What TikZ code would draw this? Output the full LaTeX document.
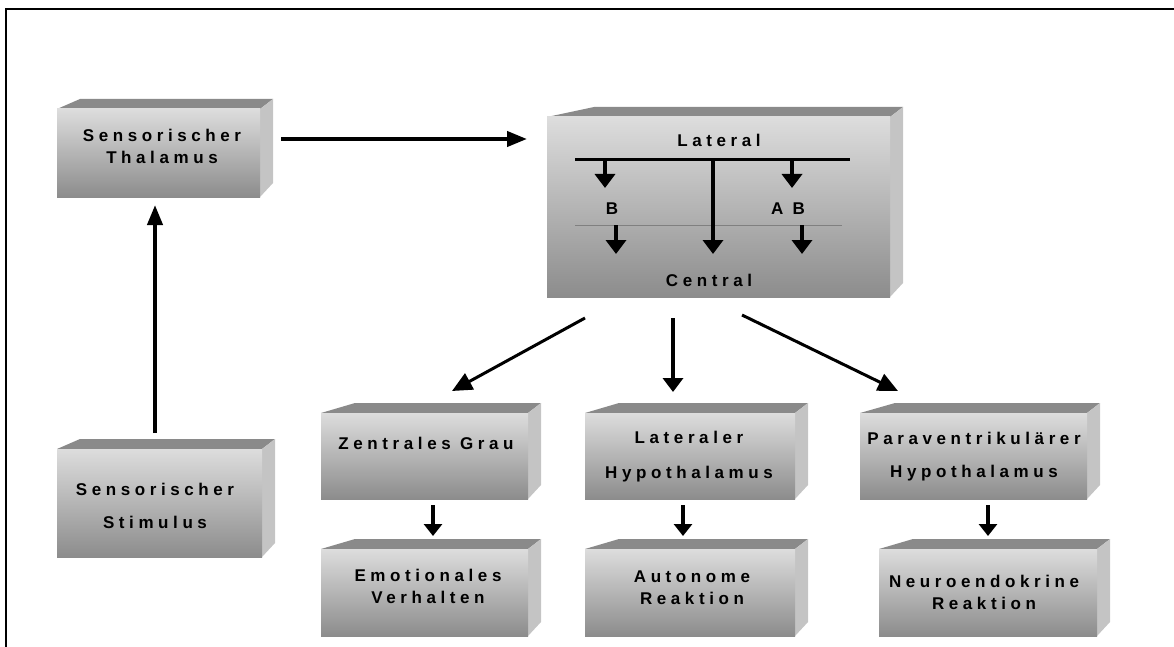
\documentclass[tikz,border=0pt]{standalone}
\usepackage{fontspec}
\newfontfamily\lblfont[LetterSpace=27]{Liberation Sans}
\usetikzlibrary{arrows.meta}
\definecolor{topc}{HTML}{8A8A8A}
\definecolor{sidec}{HTML}{C4C4C4}
\definecolor{fronttop}{HTML}{DDDDDD}
\definecolor{frontmid}{HTML}{C0C0C0}
\definecolor{frontbot}{HTML}{8C8C8C}
\definecolor{thinline}{HTML}{808080}
\tikzset{
  frontbox/.style={rectangle, inner sep=0pt, draw=none, top color=fronttop, middle color=frontmid, bottom color=frontbot},
  lab/.style={font=\lblfont\bfseries\fontsize{17}{20}\selectfont, inner sep=0pt, anchor=base},
  arrthick/.style={line width=4pt, -{Triangle[length=14pt,width=20pt]}},
  arrmain/.style={line width=4pt, -{Triangle[length=20pt,width=15pt]}},
  arrdiag/.style={line width=3pt, -{Triangle[length=20pt,width=18pt]}},
  arrsmall/.style={line width=4pt, -{Triangle[length=12pt,width=18pt]}},
}
\newcommand{\mybox}[6]{%
  \fill[topc] (#2,#3) -- (#2+#6,#3-10) -- (#4+13,#3-10) -- (#4,#3) -- cycle;
  \fill[sidec] (#4,#3) -- (#4+13,#3-10) -- (#4+13,#5-14) -- (#4,#5) -- cycle;
  \node[frontbox, minimum width={#4-#2}, minimum height={#5-#3}] (#1) at ({(#2+#4)/2},{(#3+#5)/2}) {};
}
\begin{document}
\begin{tikzpicture}[x=1pt,y=-1pt]
\useasboundingbox (0,0) rectangle (1174,647);
% frame
\draw[line width=2pt] (6,647) -- (6,9) -- (1174,9);

% boxes
\mybox{thal}{57}{109}{260}{197}{23}
\mybox{stim}{57}{449}{262}{557}{23}
\mybox{amy}{547}{117}{890}{297}{47}
\mybox{zg}{321}{413}{528}{499}{34}
\mybox{emo}{321}{549}{528}{636}{34}
\mybox{lh}{585}{413}{795}{499}{34}
\mybox{aut}{585}{549}{795}{636}{34}
\mybox{pvh}{860}{413}{1087}{499}{35}
\mybox{neu}{879}{549}{1097}{636}{34}

% texts
\node[lab] (t1) at (162,142) {Sensorischer};
\node[lab] (t2) at (162,164) {Thalamus};
\node[lab] (s1) at (155,495) {Sensorischer};
\node[lab] (s2) at (155,528) {Stimulus};
\node[lab] (a1) at (719,147) {Lateral};
\node[lab] (a2) at (612,214) {B};
\node[lab] (a3) at (788,214) {A B};
\node[lab] (a4) at (709,286) {Central};
\node[lab] (z1) at (426,449) {Zentrales Grau};
\node[lab] (e1) at (428,581) {Emotionales};
\node[lab] (e2) at (428,603) {Verhalten};
\node[lab] (l1) at (689,443) {Lateraler};
\node[lab] (l2) at (689,478) {Hypothalamus};
\node[lab] (u1) at (692,582) {Autonome};
\node[lab] (u2) at (692,604) {Reaktion};
\node[lab] (p1) at (974,444) {Paraventrikulärer};
\node[lab] (p2) at (974,477) {Hypothalamus};
\node[lab] (n1) at (984,587) {Neuroendokrine};
\node[lab] (n2) at (984,609) {Reaktion};

% inner amygdala structure
\coordinate (barL) at (575,160);
\coordinate (barR) at (850,160);
\draw[line width=3pt] (barL) -- (barR);
\draw[thinline, line width=1pt] (575,225) -- (842,225);
\coordinate (bB0) at (605,160);
\coordinate (bB1) at (605,188);
\coordinate (bAB0) at (792,160);
\coordinate (bAB1) at (792,188);
\coordinate (bM0) at (713,160);
\coordinate (bM1) at (713,254);
\coordinate (cB0) at (616,225);
\coordinate (cB1) at (616,254);
\coordinate (cAB0) at (802,225);
\coordinate (cAB1) at (802,254);
\draw[arrthick] (bB0) -- (bB1);
\draw[arrthick] (bAB0) -- (bAB1);
\draw[arrthick] (bM0) -- (bM1);
\draw[arrthick] (cB0) -- (cB1);
\draw[arrthick] (cAB0) -- (cAB1);

% main connectors
\coordinate (thalOut) at (281,139);
\coordinate (amyIn) at (527,139);
\draw[arrmain] (thalOut) -- (amyIn);
\coordinate (stimOut) at (155,433);
\coordinate (thalIn) at (155,205);
\draw[arrmain] (stimOut) -- (thalIn);

\coordinate (amyL) at (585,318);
\coordinate (zgIn) at (452,391);
\draw[arrdiag] (amyL) -- (zgIn);
\coordinate (amyM) at (673,318);
\coordinate (lhIn) at (673,392);
\draw[arrthick] (amyM) -- (lhIn);
\coordinate (amyR) at (742,315);
\coordinate (pvhIn) at (898,391);
\draw[arrdiag] (amyR) -- (pvhIn);

\coordinate (zgOut) at (433,505);
\coordinate (emoIn) at (433,536);
\draw[arrsmall] (zgOut) -- (emoIn);
\coordinate (lhOut) at (683,505);
\coordinate (autIn) at (683,536);
\draw[arrsmall] (lhOut) -- (autIn);
\coordinate (pvhOut) at (988,505);
\coordinate (neuIn) at (988,536);
\draw[arrsmall] (pvhOut) -- (neuIn);
\end{tikzpicture}
\end{document}
